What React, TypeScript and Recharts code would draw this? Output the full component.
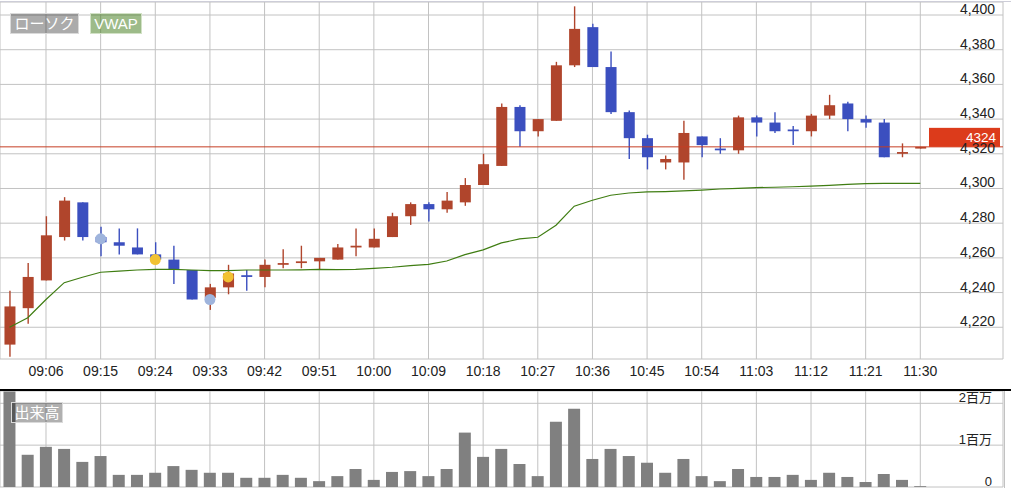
import React from 'react';
import { ComposedChart, Bar, Line, XAxis, YAxis, CartesianGrid, ReferenceLine } from 'recharts';

const TIMES = [
  '09:00','09:03','09:06','09:09','09:12','09:15','09:18','09:21','09:24','09:27',
  '09:30','09:33','09:36','09:39','09:42','09:45','09:48','09:51','09:54','09:57',
  '10:00','10:03','10:06','10:09','10:12','10:15','10:18','10:21','10:24','10:27',
  '10:30','10:33','10:36','10:39','10:42','10:45','10:48','10:51','10:54','10:57',
  '11:00','11:03','11:06','11:09','11:12','11:15','11:18','11:21','11:24','11:27','11:30',
];
const OPEN = [4210,4231,4247,4272,4292,4272,4269,4266,4262,4259,4253,4237,4243,4250,4249,4256,4257,4258,4259,4266,4266,4272,4284,4291,4288,4292,4302,4313,4347,4333,4339,4371,4393,4370,4344,4329,4315,4315,4330,4323,4322,4341,4338,4334,4333,4342,4349,4340,4338,4320,4323];
const HIGH = [4241,4257,4284,4295,4292,4278,4277,4277,4269,4267,4253,4245,4256,4253,4259,4265,4267,4260,4268,4277,4277,4286,4292,4292,4298,4306,4320,4349,4348,4340,4373,4405,4395,4379,4345,4331,4319,4339,4330,4329,4342,4342,4344,4336,4343,4354,4350,4342,4340,4326,4324];
const LOW = [4203,4222,4247,4270,4270,4261,4262,4262,4257,4245,4236,4230,4239,4241,4243,4254,4254,4253,4259,4261,4266,4272,4279,4281,4286,4290,4302,4313,4324,4330,4339,4370,4370,4343,4317,4311,4311,4305,4318,4320,4320,4330,4332,4325,4330,4340,4333,4335,4318,4318,4323];
const CLOSE = [4232,4249,4273,4293,4272,4269,4267,4262,4259,4253,4236,4243,4251,4249,4256,4257,4258,4260,4266,4267,4271,4284,4291,4288,4293,4302,4314,4347,4333,4340,4371,4392,4370,4344,4329,4318,4317,4332,4325,4322,4341,4338,4333,4333,4342,4348,4340,4338,4318,4321,4324];
const VWAP = [4220,4225.5,4236,4245.7,4248.8,4251.7,4252.4,4253,4253.4,4253.4,4253,4252.6,4252.6,4253,4253,4253,4253.1,4253.4,4253.2,4253.4,4254,4254.6,4255.5,4256.3,4258.2,4261.9,4264.6,4268.6,4270.9,4271.9,4278.8,4289.8,4293.2,4296.1,4297.4,4298,4298.2,4298.6,4299.1,4299.7,4300.1,4300.5,4300.7,4301,4301.4,4301.8,4302.4,4302.8,4303,4303,4303];
const VOLUME = [2280000,770000,960000,910000,600000,740000,290000,290000,340000,500000,410000,340000,340000,220000,220000,290000,220000,140000,260000,430000,170000,360000,380000,260000,430000,1300000,720000,910000,550000,260000,1560000,1870000,670000,910000,740000,580000,340000,670000,260000,140000,430000,240000,240000,290000,170000,340000,240000,120000,310000,170000,20000];

const SIGNAL_TIMES = ['09:15','09:24','09:33','09:36'];
const SIGNAL_PRICES = [4271, 4259, 4236, 4249];
const SIGNAL_KINDS = ['sell','buy','sell','buy'];

const TIME_TICKS = ['09:06','09:15','09:24','09:33','09:42','09:51','10:00','10:09','10:18','10:27','10:36','10:45','10:54','11:03','11:12','11:21','11:30'];
const PRICE_TICKS = [4220,4240,4260,4280,4300,4320,4340,4360,4380,4400];
const VOLUME_TICKS = [0, 1000000, 2000000];
const LEGEND_LABELS = ['ローソク', 'VWAP'];
const VOLUME_LABEL = '出来高';

const toMin = (s: string) => { const [h, m] = s.split(':').map(Number); return (h - 9) * 60 + m; };
const fromMin = (v: number) => { const h = 9 + Math.floor(v / 60); const m = v % 60; return `${String(h).padStart(2, '0')}:${String(m).padStart(2, '0')}`; };

const data = TIMES.map((time, i) => {
  const si = SIGNAL_TIMES.indexOf(time);
  return {
    t: toMin(time), time,
    open: OPEN[i], high: HIGH[i], low: LOW[i], close: CLOSE[i],
    range: [LOW[i], HIGH[i]],
    vwap: VWAP[i], vol: VOLUME[i],
    sigSell: si >= 0 && SIGNAL_KINDS[si] === 'sell' ? SIGNAL_PRICES[si] : null,
    sigBuy: si >= 0 && SIGNAL_KINDS[si] === 'buy' ? SIGNAL_PRICES[si] : null,
  };
});
const LAST = CLOSE[CLOSE.length - 1];

const X_DOMAIN: [number, number] = [-1.576, 163.62];
const TICK_MIN = TIME_TICKS.map(toMin);

const RED = '#b0452c';
const BLUE = '#3b4fbf';
const FONT = "'Liberation Sans', Arial, 'Noto Sans CJK JP', sans-serif";

const Candle = (props: any) => {
  const { x, y, width, height, payload } = props;
  if (!payload || x == null) return <g />;
  const { open, close, high, low } = payload;
  const top = height >= 0 ? y : y + height;
  const h = Math.abs(height);
  const k = high > low ? h / (high - low) : 0;
  const py = (v: number) => top + (high - v) * k;
  const color = close >= open ? RED : BLUE;
  const bTop = py(Math.max(open, close));
  const bBot = py(Math.min(open, close));
  const cx = x + width / 2;
  return (
    <g>
      <line x1={cx} x2={cx} y1={top} y2={top + h} stroke={color} strokeWidth={1.4} />
      <rect x={x} y={bTop} width={width} height={Math.max(bBot - bTop, 1.6)} fill={color} />
    </g>
  );
};

const signalDot = (color: string) => (p: any) => {
  if (p.value == null || p.cy == null) return <g key={p.key || p.index} />;
  return <circle key={p.key || p.index} cx={p.cx} cy={p.cy} r={5.5} fill={color} stroke="none" />;
};

const PriceTag = (props: any) => {
  const vb = props.viewBox || {};
  const right = vb.x + vb.width;
  return (
    <g>
      <rect x={right - 74} y={vb.y - 19} width={71} height={19} fill="#dc3b1b" />
      <text x={right - 7} y={vb.y - 9.5} textAnchor="end" dominantBaseline="central" fill="#fff" fontSize={13.5} fontFamily={FONT}>{String(LAST)}</text>
    </g>
  );
};

const XTick = (p: any) => (
  <text x={p.x} y={p.y + 11.7} textAnchor="middle" dominantBaseline="central" fill="#222" fontSize={14} fontFamily={FONT}>
    {fromMin(p.payload.value)}
  </text>
);
const PriceTick = (p: any) => (
  <text x={p.x} y={p.y - 6} textAnchor="end" dominantBaseline="central" fill="#222" fontSize={14} fontFamily={FONT}>
    {p.payload.value.toLocaleString('en-US')}
  </text>
);
const VolTick = (p: any) => {
  const v = p.payload.value;
  return (
    <text x={p.x} y={p.y - 6} textAnchor="end" dominantBaseline="central" fill="#222" fontSize={13} fontFamily={FONT}>
      {v === 0 ? '0' : `${v / 1000000}百万`}
    </text>
  );
};

const boxStyle = (left: number, top: number, width: number, bg: string, border: string): React.CSSProperties => ({
  position: 'absolute', left, top, width, height: 21, boxSizing: 'border-box', background: bg,
  border: `1px solid ${border}`, color: '#fff', fontSize: 15, lineHeight: '19px', textAlign: 'center',
  fontFamily: FONT, whiteSpace: 'nowrap', overflow: 'hidden',
});

export default function App() {
  return (
    <div style={{ position: 'absolute', left: 0, top: 0, width: 1011, height: 493, background: '#fff', fontFamily: FONT, overflow: 'hidden' }}>
      <div style={{ position: 'absolute', left: 0, top: 0 }}>
        <ComposedChart width={1011} height={389} data={data} margin={{ top: 2, right: 8, bottom: 0, left: 0 }}>
          <CartesianGrid stroke="#c2c2c2" strokeWidth={1} />
          <XAxis dataKey="t" type="number" domain={X_DOMAIN} allowDataOverflow ticks={TICK_MIN} interval={0}
            axisLine={false} tickLine={false} tickSize={0} tickMargin={0} height={30} tick={<XTick />} />
          <YAxis type="number" orientation="right" mirror domain={[4201.7, 4407.5]} allowDataOverflow ticks={PRICE_TICKS}
            interval={0} axisLine={false} tickLine={false} tickSize={0} tickMargin={8} tick={<PriceTick />} />
          <Line dataKey="vwap" type="linear" stroke="#3f7d12" strokeWidth={1.2} dot={false} activeDot={false} isAnimationActive={false} />
          <Bar dataKey="range" barSize={11} shape={<Candle />} isAnimationActive={false} />
          <Line dataKey="sigSell" stroke="none" dot={signalDot('#9fb4dc')} activeDot={false} isAnimationActive={false} />
          <Line dataKey="sigBuy" stroke="none" dot={signalDot('#f1c232')} activeDot={false} isAnimationActive={false} />
          <ReferenceLine y={LAST} stroke="#c63d24" strokeWidth={1} label={<PriceTag />} />
        </ComposedChart>
      </div>
      <div style={{ position: 'absolute', left: 0, top: 1, width: 1011, height: 1, background: '#cdcdd8' }} />
      <div style={{ position: 'absolute', left: 0, top: 389, width: 1011, height: 2, background: '#000' }} />
      <div style={{ position: 'absolute', left: 0, top: 391 }}>
        <ComposedChart width={1011} height={97} data={data} margin={{ top: 0, right: 8, bottom: 1, left: 0 }}>
          <CartesianGrid stroke="#c2c2c2" strokeWidth={1} />
          <XAxis dataKey="t" type="number" domain={X_DOMAIN} allowDataOverflow ticks={TICK_MIN} interval={0} hide />
          <YAxis type="number" orientation="right" mirror domain={[0, 2294000]} allowDataOverflow ticks={VOLUME_TICKS}
            interval={0} axisLine={false} tickLine={false} tickSize={0} tickMargin={11} tick={<VolTick />} />
          <Bar dataKey="vol" barSize={12} fill="#808080" isAnimationActive={false} />
        </ComposedChart>
      </div>
      <div style={{ position: 'absolute', left: 1004, top: 391, width: 1, height: 97, background: '#c2c2c2' }} />
      <div style={boxStyle(10, 13, 69, 'rgba(0,0,0,0.33)', '#dadada')}>{LEGEND_LABELS[0]}</div>
      <div style={boxStyle(90, 13, 52, 'rgba(60,120,20,0.5)', '#d2e2c6')}>{LEGEND_LABELS[1]}</div>
      <div style={boxStyle(11, 402, 52, 'rgba(0,0,0,0.31)', '#dadada')}>{VOLUME_LABEL}</div>
    </div>
  );
}
